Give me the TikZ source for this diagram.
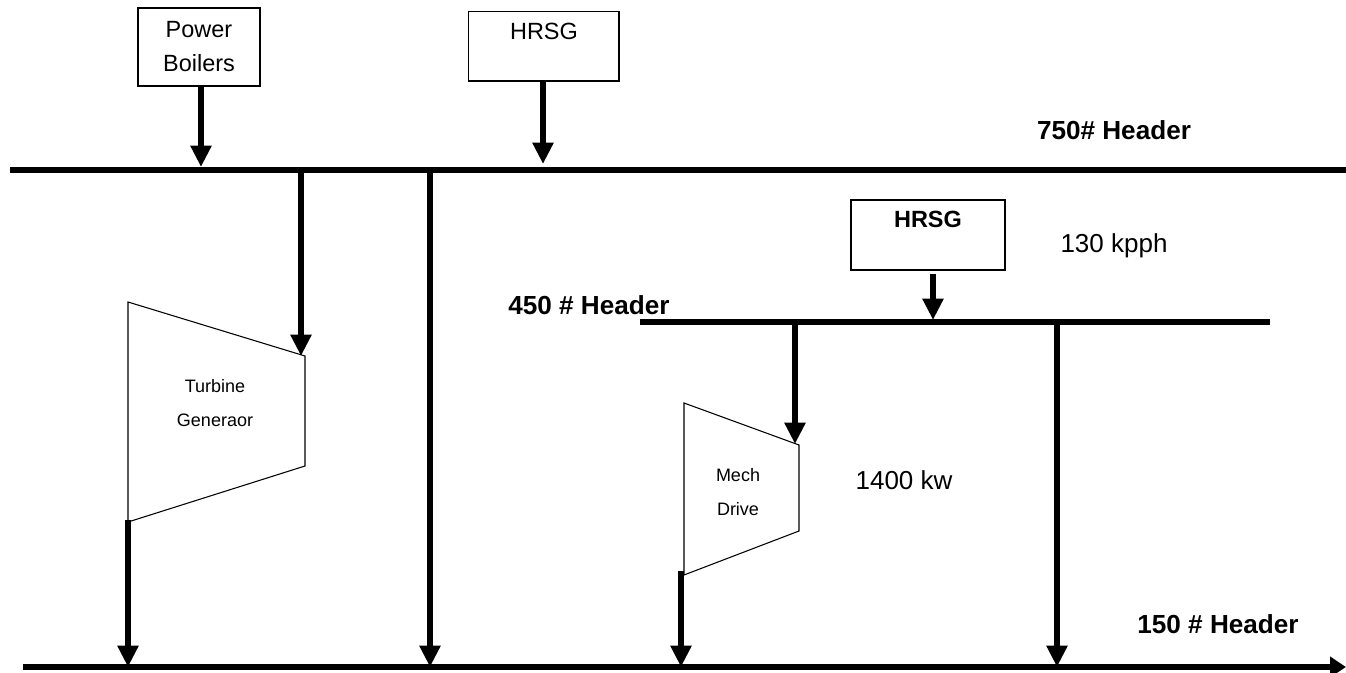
\documentclass[tikz,border=0pt]{standalone}
\usepackage{fontspec}
\setmainfont{Liberation Sans}
\usetikzlibrary{arrows.meta}
\tikzset{
  unitbox/.style={draw,line width=1pt,inner sep=0pt},
  boxtxt/.style={font=\fontsize{17.6}{25.5}\selectfont,align=center},
  smalltxt/.style={font=\fontsize{13.5}{26}\selectfont,align=center},
  valtxt/.style={font=\fontsize{19.5}{24}\selectfont},
  headtxt/.style={font=\fontsize{19.6}{24}\selectfont\bfseries},
  header/.style={line width=4.6pt},
  flow/.style={line width=4.6pt,-{Triangle[width=15pt,length=16pt]}},
  drop/.style={line width=4.6pt},
  casing/.style={line width=.8pt}
}
\begin{document}
\begin{tikzpicture}[x=.75pt,y=-.75pt]
\useasboundingbox (0,0) rectangle (1346,673);
% headers
\coordinate (h750) at (10,170); \coordinate (h750end) at (1346,170);
\coordinate (h450) at (640,322); \coordinate (h450end) at (1270,322);
\coordinate (h150) at (23,667); \coordinate (h150end) at (1346,667);
\draw[header] (h750)--(h750end);
\draw[header] (h450)--(h450end);
\draw[header,-{Triangle[width=15pt,length=12pt]}] (h150)--(h150end);
\node[headtxt] (l750) at (1114,130) {750\# Header};
\node[headtxt] (l450) at (589,305) {450 \# Header};
\node[headtxt] (l150) at (1218,624) {150 \# Header};
% sources
\node[unitbox,boxtxt,minimum width=91.5pt,minimum height=58.5pt] (boilers) at (199,47) {Power\\Boilers};
\node[unitbox,minimum width=113pt,minimum height=52pt] (hrsgA) at (543.5,46.5) {};
\node[boxtxt] (hrsgAtxt) at (544,31) {HRSG};
\node[unitbox,minimum width=115.5pt,minimum height=52.5pt] (hrsgB) at (928,235) {};
\node[boxtxt,font=\fontsize{17.6}{24}\selectfont\bfseries] (hrsgBtxt) at (928,219) {HRSG};
\node[valtxt] (steam) at (1114,246) {130 kpph};
\coordinate (inA) at (201,167); \coordinate (inB) at (543,164); \coordinate (inC) at (933,320);
\draw[flow] (inA |- boilers.south)--(inA);
\draw[flow] (inB |- hrsgA.south)--(inB);
\draw[flow] (933,274)--(inC);
% turbine generator
\coordinate (t1a) at (128,302); \coordinate (t1b) at (305,356);
\coordinate (t1c) at (305,466); \coordinate (t1d) at (128,522);
\draw[casing] (t1a)--(t1b)--(t1c)--(t1d)--cycle;
\node[smalltxt] (t1txt) at (215,403) {Turbine\\Generaor};
\coordinate (t1in) at (301,356); \coordinate (t1out) at (128,520);
\draw[flow] (t1in |- h750)--(t1in);
\draw[flow] (t1out)--(t1out |- h150);
% letdown
\coordinate (ld1) at (430,170);
\draw[flow] (ld1)--(ld1 |- h150);
% mech drive
\coordinate (t2a) at (684,403); \coordinate (t2b) at (799,445);
\coordinate (t2c) at (799,531); \coordinate (t2d) at (684,575);
\draw[casing] (t2a)--(t2b)--(t2c)--(t2d)--cycle;
\node[smalltxt] (t2txt) at (738,492) {Mech\\Drive};
\node[valtxt] (power) at (904,480) {1400 kw};
\coordinate (t2in) at (795,444); \coordinate (t2out) at (681,571);
\draw[flow] (t2in |- h450)--(t2in);
\draw[flow] (t2out)--(t2out |- h150);
% letdown 2
\coordinate (ld2) at (1057,322);
\draw[flow] (ld2)--(ld2 |- h150);
\end{tikzpicture}
\end{document}
